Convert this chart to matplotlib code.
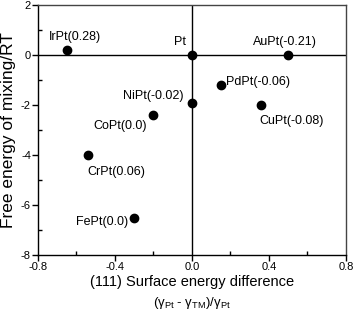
import matplotlib
matplotlib.use("Agg")
import matplotlib.pyplot as plt
from matplotlib.ticker import MultipleLocator

plt.rcParams['font.family'] = ['Liberation Sans', 'DejaVu Sans']
plt.rcParams['mathtext.fontset'] = 'custom'
plt.rcParams['mathtext.rm'] = 'Liberation Sans'
plt.rcParams['mathtext.it'] = 'Liberation Sans'

# data
alloys = ['IrPt(0.28)', 'Pt', 'AuPt(-0.21)', 'PdPt(-0.06)', 'NiPt(-0.02)',
          'CoPt(0.0)', 'CuPt(-0.08)', 'CrPt(0.06)', 'FePt(0.0)']
surf_diff = [-0.65, 0.0, 0.50, 0.15, 0.0, -0.20, 0.36, -0.54, -0.30]
free_energy = [0.2, 0.0, 0.0, -1.2, -1.9, -2.4, -2.0, -4.0, -6.5]

# label placement (offset in pixels, horizontal alignment)
label_offsets = [(-18, 13, 'left'), (-12, 13, 'center'), (-35, 13, 'left'),
                 (5, 3, 'left'), (-8, 7, 'right'), (-6, -11, 'right'),
                 (-2, -16, 'left'), (-1, -17, 'left'), (-6, -4, 'right')]

fig = plt.figure(figsize=(3.54, 3.13), dpi=100)
ax = fig.add_axes([0.107, 0.185, 0.870, 0.799])

ax.axhline(0, color='black', lw=1.0, zorder=1)
ax.axvline(0, color='black', lw=1.0, zorder=1)
ax.scatter(surf_diff, free_energy, s=36, color='black', zorder=3)

for name, x, y, (dx, dy, ha) in zip(alloys, surf_diff, free_energy, label_offsets):
    ax.annotate(name, (x, y), xytext=(dx, dy), textcoords='offset pixels',
                ha=ha, va='center', fontsize=9)

ax.set_xlim(-0.8, 0.8)
ax.set_ylim(-8, 2)
ax.xaxis.set_major_locator(MultipleLocator(0.4))
ax.xaxis.set_minor_locator(MultipleLocator(0.2))
ax.yaxis.set_major_locator(MultipleLocator(2))
ax.yaxis.set_minor_locator(MultipleLocator(1))
ax.xaxis.set_major_formatter(plt.FuncFormatter(lambda v, p: '%.1f' % v))
ax.yaxis.set_major_formatter(plt.FuncFormatter(lambda v, p: '%d' % v))
ax.tick_params(which='major', direction='out', length=4, width=1, labelsize=8, pad=1)
ax.tick_params(which='minor', direction='in', length=3, width=1)

for side in ['left', 'bottom']:
    ax.spines[side].set_linewidth(1.0)
for side in ['top', 'right']:
    ax.spines[side].set_color('#444444')
    ax.spines[side].set_linewidth(1.0)

fig.text(0.025, 0.585, 'Free energy of mixing/RT', rotation=90,
         ha='center', va='center', fontsize=12.5)
fig.text(0.542, 1 - 282 / 313, '(111) Surface energy difference',
         ha='center', va='center', fontsize=10.5)
fig.text(0.542, 1 - 303 / 313, r'$(\gamma_{Pt}$ - $\gamma_{TM})/\gamma_{Pt}$',
         ha='center', va='center', fontsize=9.5)

fig.savefig('out.png', dpi=100)
